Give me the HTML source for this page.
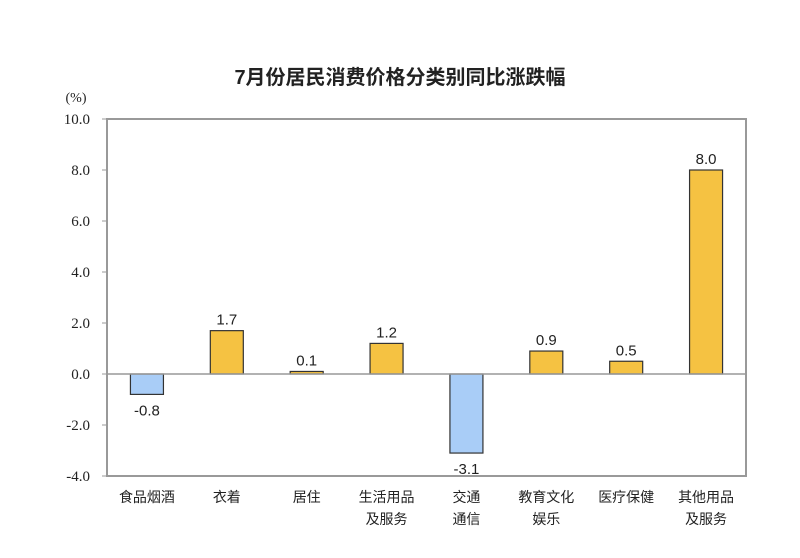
<!DOCTYPE html>
<html><head><meta charset="utf-8"><style>
body{margin:0;background:#fff;}
svg{display:block;}
</style></head><body>
<svg id="chart" width="800" height="558" xmlns="http://www.w3.org/2000/svg">
<text x="400" y="84" text-anchor="middle" font-family="'Liberation Sans','Noto Sans CJK SC',sans-serif" font-size="20" font-weight="bold" fill="#222">7月份居民消费价格分类别同比涨跌幅</text>
<text x="76" y="102" text-anchor="middle" font-family="'Liberation Serif',serif" font-size="14" fill="#222">(%)</text>
<rect x="107" y="119" width="639" height="357" fill="none" stroke="#999" stroke-width="2"/>
<g id="bars"></g>
</svg>
<script>
const categories=[["食品烟酒"],["衣着"],["居住"],["生活用品","及服务"],["交通","通信"],["教育文化","娱乐"],["医疗保健"],["其他用品","及服务"]];
const values=[-0.8,1.7,0.1,1.2,-3.1,0.9,0.5,8.0];
const yTicks=[-4,-2,0,2,4,6,8,10];
const yTickLabels=["-4.0","-2.0","0.0","2.0","4.0","6.0","8.0","10.0"];
const NS="http://www.w3.org/2000/svg";
const L=107,R=746,T=119,B=476,ymin=-4,ymax=10;
const y=v=>B-(v-ymin)/(ymax-ymin)*(B-T);
const step=(R-L)/categories.length;
const x=i=>L+step*(i+0.5);
const svg=document.getElementById('chart');
const bars=document.getElementById('bars');
function mk(tag,attrs,parent){const e=document.createElementNS(NS,tag);for(const k in attrs)e.setAttribute(k,attrs[k]);parent.appendChild(e);return e;}
yTicks.forEach((t,i)=>{
  const tk=mk('line',{x1:L-5,x2:L,y1:y(t),y2:y(t),stroke:'#999','stroke-width':1},svg);
  
  
  const lb=mk('text',{x:L-17,y:y(t)+5,'text-anchor':'end','font-family':"'Liberation Serif',serif",'font-size':15,fill:'#222'},svg);
  lb.textContent=yTickLabels[i];
  
  
});
const z=mk('line',{x1:L,x2:R,y1:y(0),y2:y(0),stroke:'#999','stroke-width':1.5},svg);


const bw=33;
values.forEach((v,i)=>{
  const top=Math.min(y(v),y(0)),h=Math.max(Math.abs(y(v)-y(0)),1.5);
  const r=mk('rect',{x:x(i)-bw/2,y:top,width:bw,height:h,fill:v<0?'#a9cdf7':'#f5c242',stroke:'#333','stroke-width':1.2},bars);
  
  
  const t=mk('text',{x:x(i),y:v<0?y(v)+21:y(v)-6,'text-anchor':'middle','font-family':"'Liberation Sans',sans-serif",'font-size':15,fill:'#222'},bars);
  t.textContent=v.toFixed(1);
  
  
  categories[i].forEach((line,j)=>{
    const c=mk('text',{x:x(i),y:502+j*22,'text-anchor':'middle','font-family':"'Liberation Sans','Noto Sans CJK SC',sans-serif",'font-size':14,fill:'#222'},svg);
    c.textContent=line;
    
    
  });
});
</script>
</body></html>
